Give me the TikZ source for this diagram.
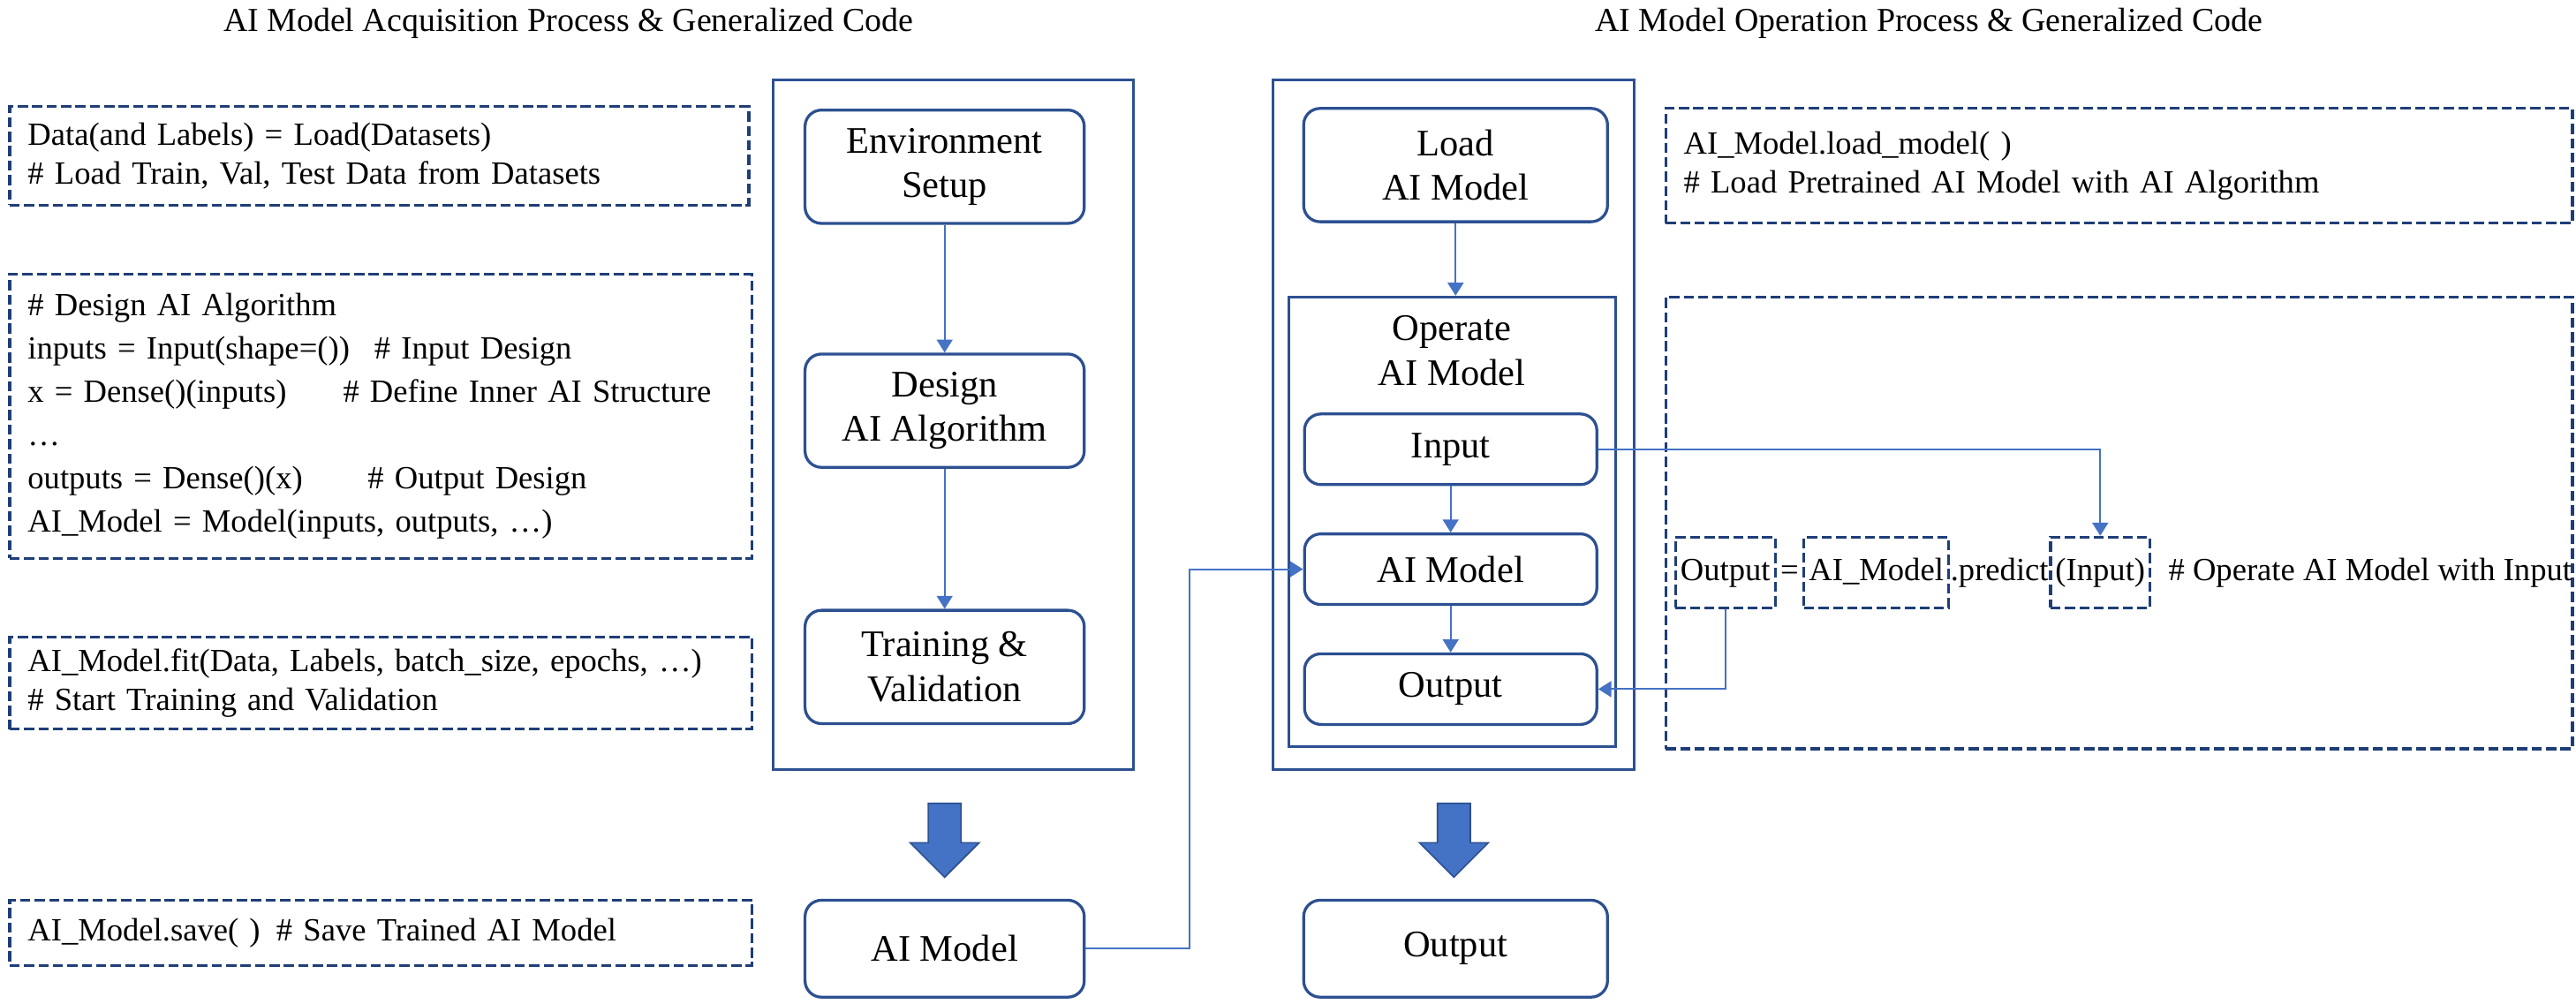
\documentclass[tikz,border=0pt]{standalone}
\usepackage{fontspec}
\setmainfont{Liberation Serif}
\usetikzlibrary{arrows.meta}
\usetikzlibrary{positioning}

\definecolor{codenavy}{RGB}{31,62,120}
\definecolor{frameblue}{RGB}{44,80,145}
\definecolor{linkblue}{RGB}{68,114,196}

\begin{document}
\begin{tikzpicture}[x=0.02cm, y=-0.02cm,
    codebox/.style={draw=codenavy, line width=1pt, dash pattern=on 3.5pt off 1.5pt, anchor=north west, align=left, inner xsep=0.22cm, font=\fontsize{11.2}{13.3}\selectfont},
    procframe/.style={draw=frameblue, line width=0.9pt, anchor=north west},
    stepbox/.style={draw=frameblue, line width=1pt, rounded corners=0.2cm, align=center, minimum width=3.56cm, font=\fontsize{13}{15.5}\selectfont},
    link/.style={draw=linkblue, line width=0.6pt, -{Triangle[width=5.5pt,length=4.5pt]}},
    predbox/.style={draw=codenavy, line width=1pt, dash pattern=on 3.5pt off 1.5pt, inner xsep=0.06cm, minimum height=0.86cm, text height=8.5pt, text depth=2.8pt, font=\fontsize{11.2}{13.3}\selectfont},
    predtext/.style={inner xsep=0pt, minimum height=0.86cm, text height=8.5pt, text depth=2.8pt, font=\fontsize{11.2}{13.3}\selectfont},
    bigarrow/.style={fill=linkblue, draw=frameblue, line width=0.5pt}]
  \useasboundingbox (0,0) rectangle (1568,610.7);

  % titles
  \node[font=\fontsize{11.6}{14}\selectfont] (acqtitle) at (346,14) {AI Model Acquisition Process \& Generalized Code};
  \node[font=\fontsize{11.6}{14}\selectfont] (optitle) at (1174,14) {AI Model Operation Process \& Generalized Code};

  % code boxes, left
  \node[codebox, text width=8.56cm, minimum height=1.2cm] (loadcode) at (5,64) {Data(and Labels) = Load(Datasets)\\\# Load Train, Val, Test Data from Datasets};
  \node[codebox, text width=8.6cm, minimum height=3.46cm, font=\fontsize{11.2}{15}\selectfont] (designcode) at (5,166) {\# Design AI Algorithm\\
    \makebox[4.22cm][l]{inputs = Input(shape=())}\# Input Design\\
    \makebox[3.84cm][l]{x = Dense()(inputs)}\# Define Inner AI Structure\\
    \ldots\\
    \makebox[4.14cm][l]{outputs = Dense()(x)}\# Output Design\\
    AI\_Model = Model(inputs, outputs, \ldots)};
  \node[codebox, text width=8.6cm, minimum height=1.12cm] (fitcode) at (5,387) {AI\_Model.fit(Data, Labels, batch\_size, epochs, \ldots)\\\# Start Training and Validation};
  \node[codebox, text width=8.6cm, minimum height=0.8cm] (savecode) at (5,547) {AI\_Model.save( )\hspace{0.5em}\# Save Trained AI Model};

  % code boxes, right
  \node[codebox, text width=10.6cm, minimum height=1.4cm] (loadmodelcode) at (1013,65) {AI\_Model.load\_model( )\\\# Load Pretrained AI Model with AI Algorithm};
  \node[codebox, minimum width=11.04cm, minimum height=5.5cm] (predcode) at (1013,180) {};

  % frames
  \node[procframe, minimum width=4.38cm, minimum height=8.4cm] (acqframe) at (470,48) {};
  \node[procframe, minimum width=4.4cm, minimum height=8.4cm] (opframe) at (774,48) {};
  \node[procframe, minimum width=3.98cm, minimum height=5.48cm] (runframe) at (783.5,180) {};

  % acquisition steps
  \node[stepbox, minimum width=3.4cm, minimum height=1.38cm] (envsetup) at (575,101.5) {Environment\\Setup};
  \node[stepbox, minimum width=3.4cm, minimum height=1.38cm] (designalg) at (575,250) {Design\\AI Algorithm};
  \node[stepbox, minimum width=3.4cm, minimum height=1.38cm] (training) at (575,406) {Training \&\\Validation};
  \node[stepbox, minimum width=3.4cm, minimum height=1.18cm] (trainedmodel) at (575,577.5) {AI Model};

  % operation steps
  \node[stepbox, minimum width=3.7cm, minimum height=1.38cm] (loadmodel) at (886,100.5) {Load\\AI Model};
  \node[font=\fontsize{13}{15.5}\selectfont, align=center, anchor=north] (operatelbl) at ([yshift=-0.12cm]runframe.north) {Operate\\AI Model};
  \node[stepbox, minimum height=0.86cm] (inputstep) at (883,273.5) {Input};
  \node[stepbox, minimum height=0.86cm] (modelstep) at (883,346.5) {AI Model};
  \node[stepbox, minimum height=0.86cm] (outputstep) at (883,419.5) {Output};
  \node[stepbox, minimum width=3.7cm, minimum height=1.18cm] (finaloutput) at (886,577.5) {Output};

  % predict line
  \node[predbox, anchor=west] (predout) at (1019,348.5) {Output};
  \node[predtext, right=0.04cm of predout] (predeq) {=};
  \node[predbox, right=0.04cm of predeq] (predmodel) {AI\_Model};
  \node[predtext, right=0pt of predmodel] (predcall) {.predict};
  \node[predbox, right=0pt of predcall] (predin) {(Input)};
  \node[predtext, right=0.2cm of predin] (predcomment) {\# Operate AI Model with Input};

  % connectors
  \draw[link] (envsetup) -- (designalg);
  \draw[link] (designalg) -- (training);
  \draw[link] (loadmodel.south) -- (loadmodel.south |- runframe.north);
  \draw[link] (inputstep) -- (modelstep);
  \draw[link] (modelstep) -- (outputstep);
  \draw[link] (trainedmodel.east) -- ++(63,0) |- (modelstep.west);
  \draw[link] (inputstep.east) -| (predin.north);
  \draw[link] (predout.south) |- (outputstep.east);

  % block arrows
  \foreach \ax in {575,885}
    \draw[bigarrow] (\ax-10,489) -- (\ax+10,489) -- (\ax+10,513) -- (\ax+21,513) -- (\ax,534) -- (\ax-21,513) -- (\ax-10,513) -- cycle;
\end{tikzpicture}
\end{document}
